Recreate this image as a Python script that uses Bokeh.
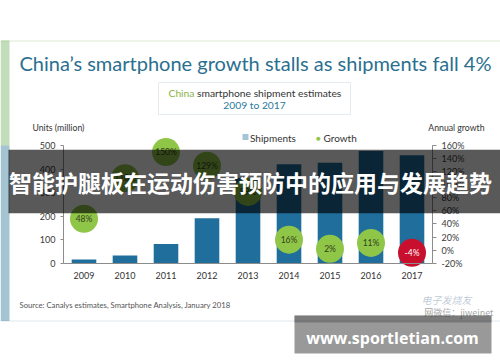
from bokeh.plotting import figure
from bokeh.models import (Range1d, LinearAxis, FixedTicker, PrintfTickFormatter,
                          BoxAnnotation, Label, ColumnDataSource)
from bokeh.embed import file_html
from bokeh.resources import INLINE
from bokeh.core.properties import value

# ---------------- data ----------------
years = ["2009", "2010", "2011", "2012", "2013", "2014", "2015", "2016", "2017"]
shipments = [16, 33, 82, 191, 362, 420, 427, 477, 459]
growth = [48, 110, 150, 129, 89, 16, 2, 11, -4]
units_ticks = [0, 100, 200, 300, 400, 500]
growth_ticks = [-20, 0, 20, 40, 60, 80, 100, 120, 140, 160]

idx = list(range(len(years)))
growth_labels = [f"{g}%" for g in growth]
circle_colors = ["#c8102e" if g < 0 else "#8fc647" for g in growth]
circle_text_colors = ["#ffffff" if g < 0 else "#33401f" for g in growth]

# ---------------- layout constants ----------------
W, H = 500, 362
# plot area in the picture (px)
PA_L, PA_R = 63.0, 432.0
PA_B, PA_T = 262.7, 145.0
CAT_PX = (PA_R - PA_L) / len(years)
UNIT_PX = (PA_B - PA_T) / 500.0

x_lo = -0.5 - PA_L / CAT_PX
x_hi = -0.5 + (W - PA_L) / CAT_PX
y_lo = -(H - PA_B) / UNIT_PX
y_hi = PA_B / UNIT_PX
g_lo = y_lo * 180.0 / 500.0 - 20.0
g_hi = y_hi * 180.0 / 500.0 - 20.0

FONT = "Lato"
CJK = "Noto Sans CJK SC"


def sx(X):
    return X


def sy(Y):
    return H - Y


src = ColumnDataSource(dict(i=idx, ship=shipments, growth=growth, glabel=growth_labels,
                            ccolor=circle_colors, tcolor=circle_text_colors))

p = figure(width=W, height=H, x_range=Range1d(x_lo, x_hi), y_range=Range1d(y_lo, y_hi),
           output_backend="svg", toolbar_location=None, title=None,
           min_border=0, min_border_left=0, min_border_right=0, min_border_top=0,
           min_border_bottom=0, outline_line_color=None, x_axis_type=None, y_axis_type=None,
           background_fill_color="white", border_fill_color="white")
p.xgrid.visible = False
p.ygrid.visible = False
p.extra_y_ranges = {"growth": Range1d(g_lo, g_hi)}

AX = "#8c8c8c"
LBL = "#3a3a3a"


def style_axis(ax, size="9px"):
    ax.axis_line_color = AX
    ax.major_tick_line_color = AX
    ax.minor_tick_line_color = None
    ax.major_tick_in = 0
    ax.major_label_text_font = FONT
    ax.major_label_text_font_size = size
    ax.major_label_text_color = LBL


lax = LinearAxis(ticker=FixedTicker(ticks=units_ticks), bounds=(0, 500), fixed_location=-0.5)
style_axis(lax)
lax.major_tick_out = 3
lax.major_label_standoff = 5
p.add_layout(lax, "left")

rax = LinearAxis(y_range_name="growth", ticker=FixedTicker(ticks=growth_ticks),
                 formatter=PrintfTickFormatter(format="%d%%"), bounds=(-20, 160),
                 fixed_location=len(years) - 0.5)
style_axis(rax)
rax.major_tick_out = 4
rax.major_label_standoff = 5
p.add_layout(rax, "right")

bax = LinearAxis(ticker=FixedTicker(ticks=idx), bounds=(-0.5, len(years) - 0.5),
                 major_label_overrides={i: y for i, y in zip(idx, years)}, fixed_location=0)
style_axis(bax, "9px")
bax.major_tick_line_color = None
bax.major_tick_out = 0
bax.major_label_standoff = 9
bax.major_label_text_color = "#333333"
p.add_layout(bax, "below")

p.vbar(x="i", top="ship", width=0.6, source=src, fill_color="#1f6e9c", line_color=None)
p.scatter(x="i", y="growth", size=28, source=src, fill_color="ccolor", line_color=None,
          y_range_name="growth")
p.text(x="i", y="growth", text="glabel", source=src, y_range_name="growth",
       text_align="center", text_baseline="middle", text_font_size="8.5px",
       text_font=value(FONT), text_color="tcolor")


def box(x0, y0, x1, y1, **kw):
    b = BoxAnnotation(left=sx(x0), right=sx(x1), top=sy(y0), bottom=sy(y1),
                      left_units="screen", right_units="screen", top_units="screen",
                      bottom_units="screen", **kw)
    p.add_layout(b)
    return b


def label(X, Y, text, size, color, align="left", font=FONT, style="normal", alpha=1.0):
    l = Label(x=sx(X), y=sy(Y), x_units="screen", y_units="screen", text=text,
              text_font=font, text_font_size=f"{size}px", text_color=color,
              text_align=align, text_baseline="middle", text_font_style=style,
              text_alpha=alpha)
    p.add_layout(l)
    return l


# panel frame decorations
box(0, 40, 500, 41, fill_color="#a9c98c", line_color=None)
box(0, 320, 500, 321, fill_color="#b2c4cf", line_color=None)
box(0, 40, 9, 145, fill_color="#6aa84f", line_color=None)
box(0, 145, 9, 320.5, fill_color="#1d6b8e", line_color=None)

# title
label(19, 62, "China\u2019s smartphone growth stalls as shipments fall 4%", 20, "#2b6f8f")

# subtitle box
box(158, 82, 350, 114, fill_color="white", line_color="#9fbfcf", line_width=1)
label(168, 92.5, "China", 10.3, "#8ab34a")
label(196.5, 92.5, "smartphone shipment estimates", 10.3, "#333333")
label(254, 104.5, "2009 to 2017", 10.3, "#2b7a9b", align="center")

# axis titles
label(32, 126.5, "Units (million)", 8.7, "#333333")
label(484, 126.5, "Annual growth", 8.7, "#333333", align="right")

# legend
box(242, 133.5, 248, 139.5, fill_color="#1f6e9c", line_color=None)
label(249.5, 137, "Shipments", 10, "#333333")
label(318, 137, "\u25cf", 8, "#8fc647", align="center")
label(323, 137, "Growth", 10, "#333333")

# source
label(19, 304, "Source: Canalys estimates, Smartphone Analysis, January 2018", 7.7, "#555555")

# faint watermark inside chart
label(446, 299, "\u7535\u5b50\u53d1\u70e7\u53cb", 10, "#7f95b0", align="center", font=CJK,
      style="italic", alpha=0.5)
label(493, 312, "\u7f51\u5fae\u4fe1\uff1ajiweinet", 9, "#555555", align="right", font=CJK,
      alpha=0.55)

# overlay banner
box(8, 149.3, 500, 212.7, fill_color="black", fill_alpha=0.65, line_color=None)
label(250, 181, "\u667a\u80fd\u62a4\u817f\u677f\u5728\u8fd0\u52a8\u4f24\u5bb3\u9884\u9632\u4e2d\u7684\u5e94\u7528\u4e0e\u53d1\u5c55\u8d8b\u52bf",
      23, "white", align="center", font=CJK, style="bold")

# site watermark
box(294, 315, 491, 353, fill_color="black", line_color=None)
box(294, 315, 491, 322, fill_color="#4d4d4d", line_color=None)
label(392, 337.5, "www.sportletian.com", 16, "white", align="center", font="Open Sans",
      style="bold")

open("out.html", "w").write(file_html(p, INLINE))
